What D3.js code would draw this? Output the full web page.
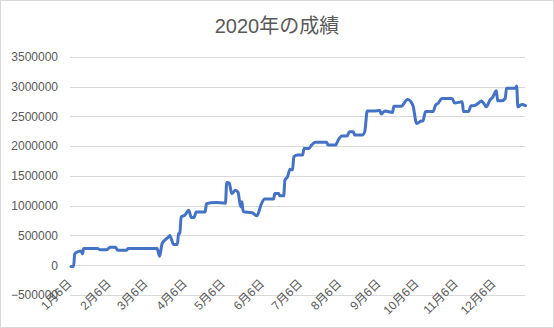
<!DOCTYPE html>
<html>
<head>
<meta charset="utf-8">
<script src="https://cdn.jsdelivr.net/npm/d3@7"></script>
<style>
body { margin: 0; background: #fff; }
</style>
</head>
<body>
<script>
// 2020 results, values
var dates = ["2020-01-06","2020-01-08","2020-01-09","2020-01-10","2020-01-14","2020-01-15","2020-01-16","2020-01-27","2020-01-29","2020-02-03",
	"2020-02-06","2020-02-10","2020-02-12","2020-02-19","2020-02-20","2020-03-14","2020-03-16","2020-03-18","2020-03-23","2020-03-24",
	"2020-03-27","2020-03-30","2020-03-31","2020-04-01","2020-04-02","2020-04-05","2020-04-08","2020-04-10","2020-04-12","2020-04-14",
	"2020-04-21","2020-04-22","2020-04-29","2020-05-07","2020-05-08","2020-05-10","2020-05-12","2020-05-15","2020-05-17","2020-05-19",
	"2020-05-20","2020-05-21","2020-05-28","2020-06-01","2020-06-04","2020-06-07","2020-06-14","2020-06-15","2020-06-18","2020-06-19",
	"2020-06-22","2020-06-23","2020-06-25","2020-06-27","2020-06-29","2020-06-30","2020-07-03","2020-07-07","2020-07-08","2020-07-12",
	"2020-07-14","2020-07-17","2020-07-26","2020-07-27","2020-08-02","2020-08-04","2020-08-07","2020-08-11","2020-08-13","2020-08-16",
	"2020-08-17","2020-08-23","2020-08-25","2020-08-27","2020-09-01","2020-09-06","2020-09-07","2020-09-10","2020-09-16","2020-09-17",
	"2020-09-23","2020-09-27","2020-09-28","2020-10-02","2020-10-05","2020-10-09","2020-10-10","2020-10-12","2020-10-18","2020-10-20",
	"2020-10-22","2020-10-25","2020-11-02","2020-11-04","2020-11-10","2020-11-11","2020-11-15","2020-11-17","2020-11-19","2020-11-23",
	"2020-11-25","2020-11-27","2020-11-29","2020-12-02","2020-12-04","2020-12-07","2020-12-08","2020-12-11","2020-12-14","2020-12-15",
	"2020-12-22","2020-12-23","2020-12-24","2020-12-27","2020-12-30"]
var values = [-20000,-20000,190000,215000,240000,190000,280000,280000,260000,260000,
	300000,300000,250000,250000,280000,280000,150000,365000,475000,500000,
	350000,350000,530000,540000,810000,840000,925000,800000,800000,895000,
	895000,1035000,1055000,1040000,1390000,1375000,1205000,1260000,1220000,980000,
	1065000,900000,880000,830000,1010000,1110000,1110000,1205000,1205000,1165000,
	1165000,1430000,1485000,1610000,1600000,1820000,1850000,1850000,1960000,1960000,
	2017000,2065000,2065000,2017000,2017000,2100000,2170000,2170000,2240000,2240000,
	2185000,2185000,2240000,2590000,2590000,2600000,2540000,2590000,2565000,2670000,
	2670000,2775000,2785000,2690000,2380000,2420000,2420000,2580000,2580000,2690000,
	2720000,2800000,2800000,2725000,2745000,2580000,2580000,2680000,2680000,2725000,
	2757000,2720000,2660000,2775000,2820000,2930000,2760000,2760000,2800000,2970000,
	2970000,3010000,2660000,2700000,2680000]
var yTicks = [-500000,0,500000,1000000,1500000,2000000,2500000,3000000,3500000]
var xTickDates = ["2020-01-06","2020-02-06","2020-03-06","2020-04-06","2020-05-06","2020-06-06",
	"2020-07-06","2020-08-06","2020-09-06","2020-10-06","2020-11-06","2020-12-06"]
var title = "2020年の成績"

var w = 554;
var h = 328;
var parse = d3.timeParse("%Y-%m-%d");

var data = []
for (var i in dates){
	data.push({date: parse(dates[i]), value: values[i]})
}

var svg = d3.select("body")
	.append("svg")
	.attr("width", w)
	.attr("height", h);

// chart border
svg.append("rect")
	.attr("x", 0.5).attr("y", 0.5)
	.attr("width", w - 1).attr("height", h - 1)
	.attr("fill", "#fff")
	.attr("stroke", "#d9d9d9");

var x = d3.scaleTime()
	.domain([parse("2020-01-06"), parse("2020-12-30")])
	.range([71, 525.5]);
var y = d3.scaleLinear()
	.domain([-500000, 3500000])
	.range([295, 56.8]);

// gridlines
svg.append("g")
	.selectAll("line")
	.data(yTicks)
	.enter()
	.append("line")
	.attr("x1", 70)
	.attr("x2", 525)
	.attr("y1", function(d){ return Math.round(y(d)) + 0.5 })
	.attr("y2", function(d){ return Math.round(y(d)) + 0.5 })
	.attr("stroke", "#d9d9d9")
	.attr("stroke-width", 1);

// y axis labels
var yAxis = svg.append("g")
	.attr("transform", "translate(58,0)")
	.call(d3.axisLeft(y).tickValues(yTicks).tickSize(0).tickPadding(0).tickFormat(d3.format("d")));
yAxis.select(".domain").remove();
yAxis.selectAll("text")
	.attr("fill", "#595959")
	.style("font-family", "'Liberation Sans', Arial, sans-serif")
	.style("font-size", "12px");

// x axis labels
var xAxis = svg.append("g")
	.attr("transform", "translate(0," + y(0) + ")")
	.call(d3.axisBottom(x)
		.tickValues(xTickDates.map(parse))
		.tickSize(0)
		.tickFormat(function(d){ return (d.getMonth() + 1) + "月" + d.getDate() + "日" }));
xAxis.select(".domain").remove();
xAxis.selectAll("text")
	.attr("fill", "#595959")
	.attr("text-anchor", "end")
	.attr("dy", null)
	.attr("y", 0)
	.attr("transform", "translate(1,19) rotate(-45)")
	.style("font-family", "'Liberation Sans', 'Noto Sans CJK JP', sans-serif")
	.style("font-size", "12px");

// the line
var line = d3.line()
	.x(function(d){ return x(d.date) })
	.y(function(d){ return y(d.value) })
	.curve(d3.curveMonotoneX);

svg.append("path")
	.datum(data)
	.attr("d", line)
	.attr("fill", "none")
	.attr("stroke", "#4472c4")
	.attr("stroke-width", 3)
	.attr("stroke-linejoin", "round")
	.attr("stroke-linecap", "round");

// title
svg.append("text")
	.attr("x", 277)
	.attr("y", 33)
	.attr("text-anchor", "middle")
	.attr("fill", "#595959")
	.style("font-family", "'Liberation Sans', 'Noto Sans CJK JP', sans-serif")
	.style("font-size", "20px")
	.text(title);
</script>
</body>
</html>
